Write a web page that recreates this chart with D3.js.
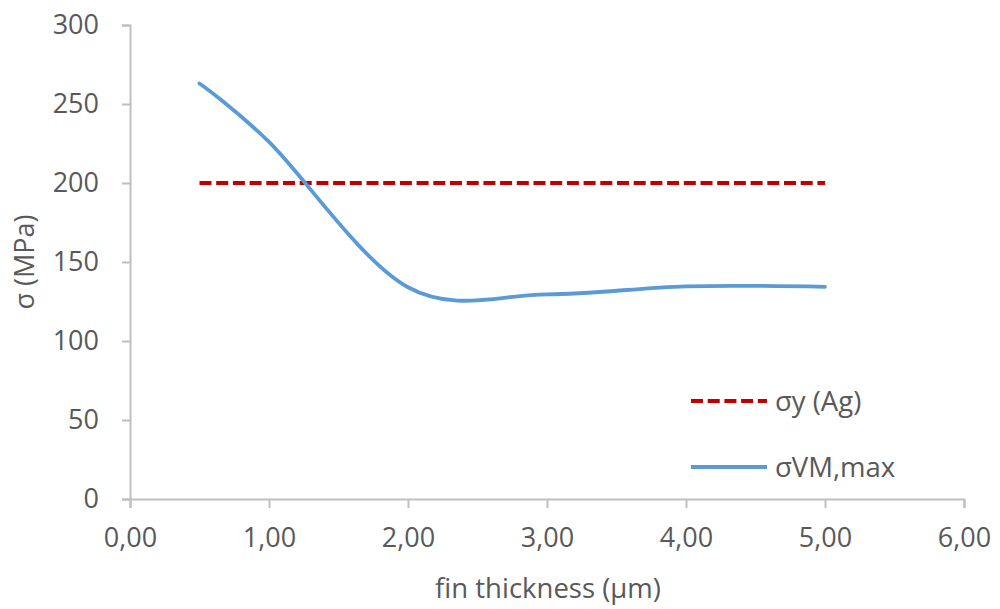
<!DOCTYPE html>
<html>
<head>
<meta charset="utf-8">
<script src="https://cdn.jsdelivr.net/npm/d3@7"></script>
<style>
  html, body { margin: 0; padding: 0; background: #fff; }
  svg { display: block; font-family: "Open Sans", sans-serif; }
</style>
</head>
<body>
<svg id="chart" width="1000" height="609"></svg>
<script>
// Fin thickness (µm) vs. maximum von Mises stress and silver yield stress (MPa)
const thickness = [0.5, 1.0, 2.0, 3.0, 4.0, 5.0];
const sigmaVM   = [263, 226, 134, 129.5, 134.6, 134.3];
const yieldX    = [0.5, 5.0];
const yieldAg   = [200, 200];
const xTicks = [0, 1, 2, 3, 4, 5, 6];
const yTicks = [0, 50, 100, 150, 200, 250, 300];
const seriesNames = ["σy (Ag)", "σVM,max"];

const svg = d3.select("#chart");
const textColor = "#595959";
const axisColor = "#bfbfbf";

const x = d3.scaleLinear().domain([0, 6]).range([130, 964]);
const y = d3.scaleLinear().domain([0, 300]).range([499, 25]);

const fmt = d => d.toFixed(2).replace(".", ",");

// y axis
const gy = svg.append("g").attr("transform", `translate(${x(0)},0)`)
  .call(d3.axisLeft(y).tickValues(yTicks).tickSize(8).tickPadding(23));
// x axis
const gx = svg.append("g").attr("transform", `translate(0,${y(0)})`)
  .call(d3.axisBottom(x).tickValues(xTicks).tickFormat(fmt).tickSize(9).tickPadding(20));

[gx, gy].forEach(g => {
  g.select(".domain").attr("stroke", axisColor).attr("stroke-width", 2);
  g.selectAll(".tick line").attr("stroke", axisColor).attr("stroke-width", 2);
  g.selectAll(".tick text").attr("fill", textColor)
    .style("font-family", "'Open Sans', sans-serif").style("font-size", "27px");
});
gx.selectAll(".tick text").attr("dy", "0.71em");

// axis titles
svg.append("text")
  .attr("x", (x(0) + x(6)) / 2 + 1).attr("y", 598)
  .attr("text-anchor", "middle").attr("fill", textColor)
  .style("font-size", "27.5px").text("fin thickness (µm)");
svg.append("text")
  .attr("transform", `translate(34,${(y(0) + y(300)) / 2}) rotate(-90)`)
  .attr("text-anchor", "middle").attr("fill", textColor)
  .style("font-size", "27px").text("σ (MPa)");

// yield stress of silver
const yieldLine = d3.line().x((d, i) => x(yieldX[i])).y(d => y(d));
svg.append("path").datum(yieldAg)
  .attr("d", yieldLine)
  .attr("fill", "none").attr("stroke", "#c00000")
  .attr("stroke-width", 3.8).attr("stroke-dasharray", "12 4.7");

// max von Mises stress (smoothed)
const vmLine = d3.line().x((d, i) => x(thickness[i])).y(d => y(d))
  .curve(d3.curveCatmullRom.alpha(0));
svg.append("path").datum(sigmaVM)
  .attr("d", vmLine)
  .attr("fill", "none").attr("stroke", "#5b9bd5")
  .attr("stroke-width", 3.8).attr("stroke-linecap", "round");

// legend
const legend = [
  { name: seriesNames[0], color: "#c00000", dash: "12 4.7", y: 401 },
  { name: seriesNames[1], color: "#5b9bd5", dash: null, y: 467 }
];
const lg = svg.append("g");
legend.forEach(l => {
  lg.append("line").attr("x1", 691).attr("x2", 767).attr("y1", l.y).attr("y2", l.y)
    .attr("stroke", l.color).attr("stroke-width", 3.8)
    .attr("stroke-dasharray", l.dash);
  lg.append("text").attr("x", 775).attr("y", l.y).attr("dy", "0.35em")
    .attr("fill", textColor).style("font-size", "27.5px").text(l.name);
});
</script>
</body>
</html>
